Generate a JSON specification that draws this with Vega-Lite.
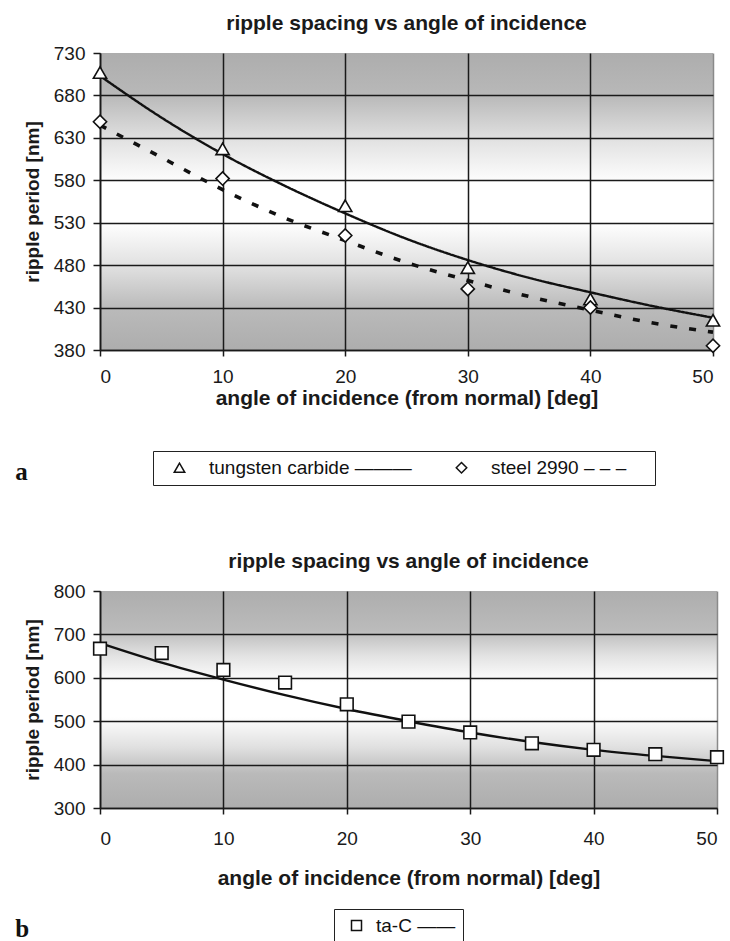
{
  "$schema": "https://vega.github.io/schema/vega-lite/v6.json",
  "background": "white",
  "padding": {"left": 15, "top": 13, "right": 4, "bottom": 0},
  "datasets": {
    "a_pts": [
      {"series": "tungsten carbide", "angle": 0, "period": 707},
      {"series": "tungsten carbide", "angle": 10, "period": 617},
      {"series": "tungsten carbide", "angle": 20, "period": 550},
      {"series": "tungsten carbide", "angle": 30, "period": 477},
      {"series": "tungsten carbide", "angle": 40, "period": 440},
      {"series": "tungsten carbide", "angle": 50, "period": 415},
      {"series": "steel 2990", "angle": 0, "period": 649},
      {"series": "steel 2990", "angle": 10, "period": 582},
      {"series": "steel 2990", "angle": 20, "period": 515},
      {"series": "steel 2990", "angle": 30, "period": 452},
      {"series": "steel 2990", "angle": 40, "period": 430},
      {"series": "steel 2990", "angle": 50, "period": 385}
    ],
    "a_fit": [
      {"series": "tungsten carbide", "angle": 0, "fit": 703},
      {"series": "tungsten carbide", "angle": 5, "fit": 654},
      {"series": "tungsten carbide", "angle": 10, "fit": 611},
      {"series": "tungsten carbide", "angle": 15, "fit": 574},
      {"series": "tungsten carbide", "angle": 20, "fit": 541},
      {"series": "tungsten carbide", "angle": 25, "fit": 511},
      {"series": "tungsten carbide", "angle": 30, "fit": 486},
      {"series": "tungsten carbide", "angle": 35, "fit": 465},
      {"series": "tungsten carbide", "angle": 40, "fit": 448},
      {"series": "tungsten carbide", "angle": 45, "fit": 432},
      {"series": "tungsten carbide", "angle": 50, "fit": 418},
      {"series": "steel 2990", "angle": 0, "fit": 645},
      {"series": "steel 2990", "angle": 5, "fit": 607},
      {"series": "steel 2990", "angle": 10, "fit": 569},
      {"series": "steel 2990", "angle": 15, "fit": 536},
      {"series": "steel 2990", "angle": 20, "fit": 509},
      {"series": "steel 2990", "angle": 25, "fit": 483},
      {"series": "steel 2990", "angle": 30, "fit": 462},
      {"series": "steel 2990", "angle": 35, "fit": 443},
      {"series": "steel 2990", "angle": 40, "fit": 427},
      {"series": "steel 2990", "angle": 45, "fit": 412},
      {"series": "steel 2990", "angle": 50, "fit": 401}
    ],
    "b_pts": [
      {"series": "ta-C", "angle": 0, "period": 667},
      {"series": "ta-C", "angle": 5, "period": 657},
      {"series": "ta-C", "angle": 10, "period": 618},
      {"series": "ta-C", "angle": 15, "period": 589},
      {"series": "ta-C", "angle": 20, "period": 539},
      {"series": "ta-C", "angle": 25, "period": 499},
      {"series": "ta-C", "angle": 30, "period": 474},
      {"series": "ta-C", "angle": 35, "period": 449},
      {"series": "ta-C", "angle": 40, "period": 434},
      {"series": "ta-C", "angle": 45, "period": 424},
      {"series": "ta-C", "angle": 50, "period": 417}
    ],
    "b_fit": [
      {"series": "ta-C", "angle": 0, "fit": 680},
      {"series": "ta-C", "angle": 5, "fit": 635},
      {"series": "ta-C", "angle": 10, "fit": 596},
      {"series": "ta-C", "angle": 15, "fit": 560},
      {"series": "ta-C", "angle": 20, "fit": 528},
      {"series": "ta-C", "angle": 25, "fit": 500},
      {"series": "ta-C", "angle": 30, "fit": 474},
      {"series": "ta-C", "angle": 35, "fit": 452},
      {"series": "ta-C", "angle": 40, "fit": 434},
      {"series": "ta-C", "angle": 45, "fit": 420},
      {"series": "ta-C", "angle": 50, "fit": 408}
    ]
  },
  "config": {
    "font": "Liberation Sans",
    "view": {"stroke": null},
    "axis": {
      "labelFont": "Liberation Sans", "labelFontSize": 19, "labelColor": "#1a1a1a",
      "titleFont": "Liberation Sans", "titleFontWeight": "bold", "titleColor": "#1a1a1a",
      "domainColor": "#1a1a1a", "domainWidth": 1.6,
      "tickColor": "#1a1a1a", "tickWidth": 1.5,
      "gridColor": "#1a1a1a", "gridWidth": 1.5, "gridOpacity": 1
    },
    "axisX": {"tickSize": 6, "labelPadding": 11, "titleFontSize": 21, "titlePadding": 1},
    "axisY": {"tickSize": 7, "labelPadding": 8, "titleFontSize": 19, "titlePadding": 11},
    "title": {"font": "Liberation Sans", "fontSize": 21, "fontWeight": "bold", "color": "#1a1a1a", "offset": 10},
    "legend": {
      "orient": "none", "direction": "horizontal", "title": null,
      "labelFont": "Liberation Sans", "labelFontSize": 19, "labelColor": "#111", "labelLimit": 400,
      "strokeColor": "#222", "padding": 7, "labelOffset": 20, "columnPadding": 30, "symbolOffset": 10
    }
  },
  "resolve": {"scale": {"shape": "independent"}, "legend": {"shape": "independent"}},
  "spacing": 65,
  "vconcat": [
    {
      "title": {"text": "a", "orient": "bottom", "anchor": "start", "frame": "bounds", "font": "Liberation Serif", "fontSize": 25, "fontWeight": "bold", "color": "#111", "offset": -26, "dx": -8},
      "vconcat": [
        {
          "title": {"text": "ripple spacing vs angle of incidence"},
          "width": 613,
          "height": 297,
          "view": {"stroke": null, "fill": {"gradient": "linear", "x1": 0, "y1": 0, "x2": 0, "y2": 1, "stops": [
            {"offset": 0, "color": "#adadad"}, {"offset": 0.14, "color": "#b8b8b8"}, {"offset": 0.3, "color": "#e3e3e3"},
            {"offset": 0.44, "color": "#ffffff"}, {"offset": 0.57, "color": "#ffffff"}, {"offset": 0.72, "color": "#e0e0e0"},
            {"offset": 0.86, "color": "#bababa"}, {"offset": 1, "color": "#adadad"}]}},
          "layer": [
            {
              "data": {"name": "a_fit"},
              "mark": {"type": "line", "interpolate": "monotone", "color": "#111"},
              "encoding": {
                "x": {"field": "angle", "type": "quantitative", "scale": {"domain": [0, 50], "nice": false},
                      "axis": {"values": [0, 10, 20, 30, 40, 50], "title": "angle of incidence (from normal) [deg]",
                               "gridColor": {"condition": {"test": "datum.value === 50", "value": "#8a8a8a"}, "value": "#1a1a1a"}}},
                "y": {"field": "fit", "type": "quantitative", "scale": {"domain": [380, 730], "nice": false, "zero": false},
                      "axis": {"values": [380, 430, 480, 530, 580, 630, 680, 730], "title": "ripple period [nm]",
                               "gridOpacity": {"condition": {"test": "datum.value === 730", "value": 0}, "value": 1}}},
                "detail": {"field": "series"},
                "strokeDash": {"field": "series", "type": "nominal", "legend": null,
                               "scale": {"domain": ["tungsten carbide", "steel 2990"], "range": [[1, 0], [7, 12]]}},
                "strokeWidth": {"field": "series", "type": "nominal", "legend": null,
                                "scale": {"domain": ["tungsten carbide", "steel 2990"], "range": [2.4, 3.6]}}
              }
            },
            {
              "data": {"name": "a_pts"},
              "mark": {"type": "point", "filled": true, "fill": "white", "stroke": "#111", "strokeWidth": 1.6, "size": 175, "opacity": 1},
              "encoding": {
                "x": {"field": "angle", "type": "quantitative"},
                "y": {"field": "period", "type": "quantitative"},
                "shape": {"field": "series", "type": "nominal",
                          "scale": {"domain": ["tungsten carbide", "steel 2990"], "range": ["triangle-up", "diamond"]},
                          "legend": {"legendX": 53, "legendY": 398, "symbolSize": 110,
                                     "labelExpr": "datum.label == 'tungsten carbide' ? 'tungsten carbide ———' : 'steel 2990 –   –   –'",
                                     "encode": {"symbols": {"update": {"fill": {"value": "white"}, "stroke": {"value": "#111"}, "strokeWidth": {"value": 1.5}, "opacity": {"value": 1}}}}}}
              }
            }
          ]
        }
      ]
    },
    {
      "title": {"text": "b", "orient": "bottom", "anchor": "start", "frame": "bounds", "font": "Liberation Serif", "fontSize": 25, "fontWeight": "bold", "color": "#111", "offset": -27, "dx": -8},
      "vconcat": [
        {
          "title": {"text": "ripple spacing vs angle of incidence"},
          "width": 617,
          "height": 217,
          "view": {"stroke": null, "fill": {"gradient": "linear", "x1": 0, "y1": 0, "x2": 0, "y2": 1, "stops": [
            {"offset": 0, "color": "#adadad"}, {"offset": 0.18, "color": "#bbbbbb"}, {"offset": 0.3, "color": "#e3e3e3"},
            {"offset": 0.42, "color": "#ffffff"}, {"offset": 0.58, "color": "#ffffff"}, {"offset": 0.72, "color": "#e0e0e0"},
            {"offset": 0.84, "color": "#bababa"}, {"offset": 1, "color": "#adadad"}]}},
          "layer": [
            {
              "data": {"name": "b_fit"},
              "mark": {"type": "line", "interpolate": "monotone", "color": "#111", "strokeWidth": 2.4},
              "encoding": {
                "x": {"field": "angle", "type": "quantitative", "scale": {"domain": [0, 50], "nice": false},
                      "axis": {"values": [0, 10, 20, 30, 40, 50], "title": "angle of incidence (from normal) [deg]",
                               "labelPadding": 15, "titlePadding": 19,
                               "gridColor": {"condition": {"test": "datum.value === 50", "value": "#8a8a8a"}, "value": "#1a1a1a"}}},
                "y": {"field": "fit", "type": "quantitative", "scale": {"domain": [300, 800], "nice": false, "zero": false},
                      "axis": {"values": [300, 400, 500, 600, 700, 800], "title": "ripple period [nm]",
                               "gridOpacity": {"condition": {"test": "datum.value === 800", "value": 0}, "value": 1}}}
              }
            },
            {
              "data": {"name": "b_pts"},
              "mark": {"type": "point", "filled": true, "fill": "white", "stroke": "#111", "strokeWidth": 1.6, "size": 160, "opacity": 1},
              "encoding": {
                "x": {"field": "angle", "type": "quantitative"},
                "y": {"field": "period", "type": "quantitative"},
                "shape": {"field": "series", "type": "nominal",
                          "scale": {"domain": ["ta-C"], "range": ["square"]},
                          "legend": {"legendX": 234, "legendY": 318, "symbolSize": 100, "labelOffset": 10, "symbolOffset": 6,
                                     "labelExpr": "datum.label + ' ——'",
                                     "encode": {"symbols": {"update": {"fill": {"value": "white"}, "stroke": {"value": "#111"}, "strokeWidth": {"value": 1.5}, "opacity": {"value": 1}}}}}}
              }
            }
          ]
        }
      ]
    }
  ]
}
